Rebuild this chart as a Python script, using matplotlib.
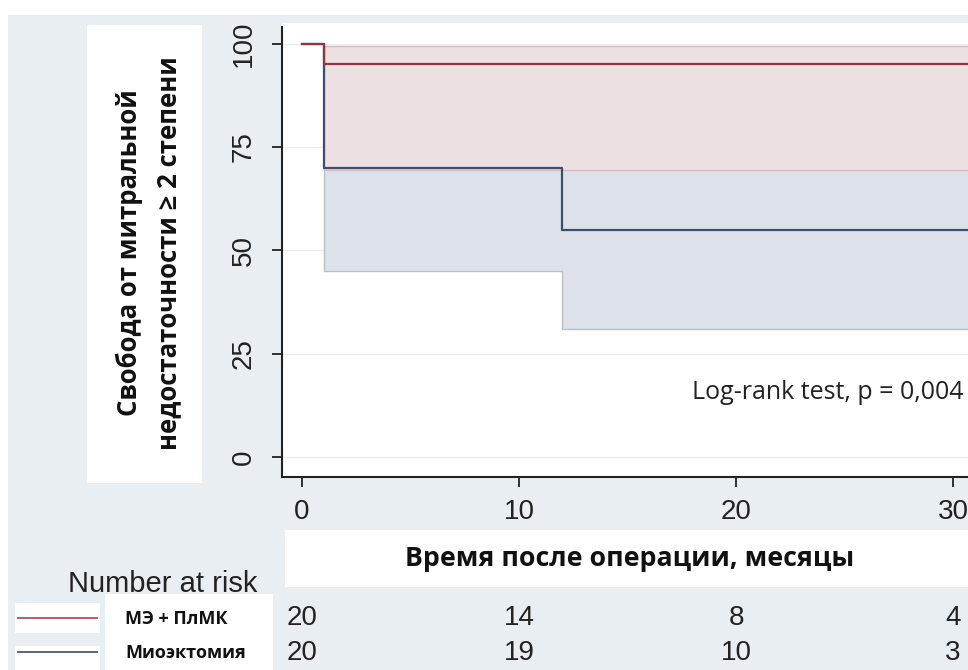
import matplotlib
matplotlib.use('Agg')
import matplotlib.pyplot as plt
from matplotlib.patches import Rectangle
from matplotlib.lines import Line2D
from matplotlib.transforms import blended_transform_factory

# Kaplan-Meier estimates (time in months, survival in %)
t_red = [0, 1, 31]
s_red = [100, 95, 95]
t_blue = [0, 1, 12, 31]
s_blue = [100, 70, 55, 55]

# confidence bands
ci_t_red = [1, 31]
ci_lo_red = [69.5, 69.5]
ci_hi_red = [99.3, 99.3]
ci_t_blue = [1, 12, 31]
ci_lo_blue = [45, 31, 31]
ci_hi_blue = [87, 72, 72]   # mostly hidden under the red band

# number at risk table
risk_times = [0, 10, 20, 30]
risk_red = [20, 14, 8, 4]
risk_blue = [20, 19, 10, 3]

group_names = ['МЭ + ПлМК', 'Миоэктомия']
y_ticks = [0, 25, 50, 75, 100]
x_ticks = [0, 10, 20, 30]

red = '#933643'
blue = '#3c4f66'
bg = '#e8eef1'

W, H = 968, 670
def fx(px):
    return px / W
def fy(py):
    return 1 - py / H

fig = plt.figure(figsize=(W / 100, H / 100), dpi=100, facecolor=bg)

# background panels (behind the axes)
def box(x0, y0, x1, y1, color='white'):
    fig.patches.append(Rectangle((fx(x0), fy(y1)), fx(x1) - fx(x0), fy(y0) - fy(y1),
                                 transform=fig.transFigure, color=color, zorder=-1, lw=0))

box(0, 0, W, 15)
box(0, 0, 8, H)
box(282, 23, W, 477)
box(87, 25, 202, 483)
box(285, 530, W, 587)
box(15, 603, 100, 633)
box(15, 646, 100, H)
box(105, 594, 273, H)

ax = fig.add_axes([fx(282), fy(477), fx(968) - fx(282), fy(27) - fy(477)])
ax.set_facecolor('none')

ax.fill_between(ci_t_blue, ci_lo_blue, ci_hi_blue, step='post', facecolor='#dde2ea',
                edgecolor='#b8bfca', lw=1, zorder=1)
ax.fill_between(ci_t_red, ci_lo_red, ci_hi_red, step='post', facecolor='#ede0e2',
                edgecolor='#d2bcc0', lw=1, zorder=2)
ax.step(t_blue, s_blue, where='post', color=blue, lw=1.6, zorder=3)
ax.step(t_red, s_red, where='post', color=red, lw=1.6, zorder=4)

ax.set_xlim(-0.92, 30.69)
ax.set_ylim(-4.84, 104)
ax.set_xticks(x_ticks)
ax.set_yticks(y_ticks)
ax.yaxis.grid(True, color='#ececec', lw=1)
ax.set_axisbelow(True)
for s in ['top', 'right']:
    ax.spines[s].set_visible(False)
for s in ['left', 'bottom']:
    ax.spines[s].set_color('#222222')
    ax.spines[s].set_linewidth(1.5)
ax.tick_params(length=7, width=1.3, color='#222222', labelcolor='#222222',
               labelsize=20)
ax.tick_params(axis='x', pad=9)
ax.tick_params(axis='y', pad=11)
for lab in ax.get_yticklabels():
    lab.set_rotation(90)
    lab.set_va('center')
for lab in ax.get_xticklabels() + ax.get_yticklabels():
    lab.set_family('Liberation Sans')

fig.text(fx(963), fy(392), 'Log-rank test, p = 0,004', ha='right', va='center',
         fontsize=18, family='Open Sans', color='#222222')

# axis titles
fig.text(fx(149), fy(253), 'Свобода от митральной\nнедостаточности ≥ 2 степени',
         rotation=90, ha='center', va='center', fontsize=18.5, fontweight='bold',
         family=['Open Sans', 'DejaVu Sans'], linespacing=1.6, color='#111111')
fig.text(fx(630), fy(559), 'Время после операции, месяцы', ha='center', va='center',
         fontsize=19.3, fontweight='bold', family='Open Sans', color='#111111')

# number at risk
fig.text(fx(257), fy(584), 'Number at risk', ha='right', va='center', fontsize=21,
         family='Liberation Sans', color='#222222')
tr = blended_transform_factory(ax.transData, fig.transFigure)
for t, a, b in zip(risk_times, risk_red, risk_blue):
    ax.text(t, fy(618), str(a), transform=tr, ha='center', va='center', fontsize=20,
            family='Liberation Sans', color='#222222', clip_on=False)
    ax.text(t, fy(653), str(b), transform=tr, ha='center', va='center', fontsize=20,
            family='Liberation Sans', color='#222222', clip_on=False)

# legend
for yy, col, name in zip([618, 652], ['#b0525c', '#4b5a6b'], group_names):
    fig.lines.append(Line2D([fx(18), fx(97)], [fy(yy), fy(yy)], color=col, lw=1.3,
                            transform=fig.transFigure))
    fig.text(fx(125), fy(yy + 1), name, ha='left', va='center', fontsize=13,
             fontweight='bold', family='Open Sans', color='#111111')

fig.savefig('out.png', dpi=100, facecolor=bg)
